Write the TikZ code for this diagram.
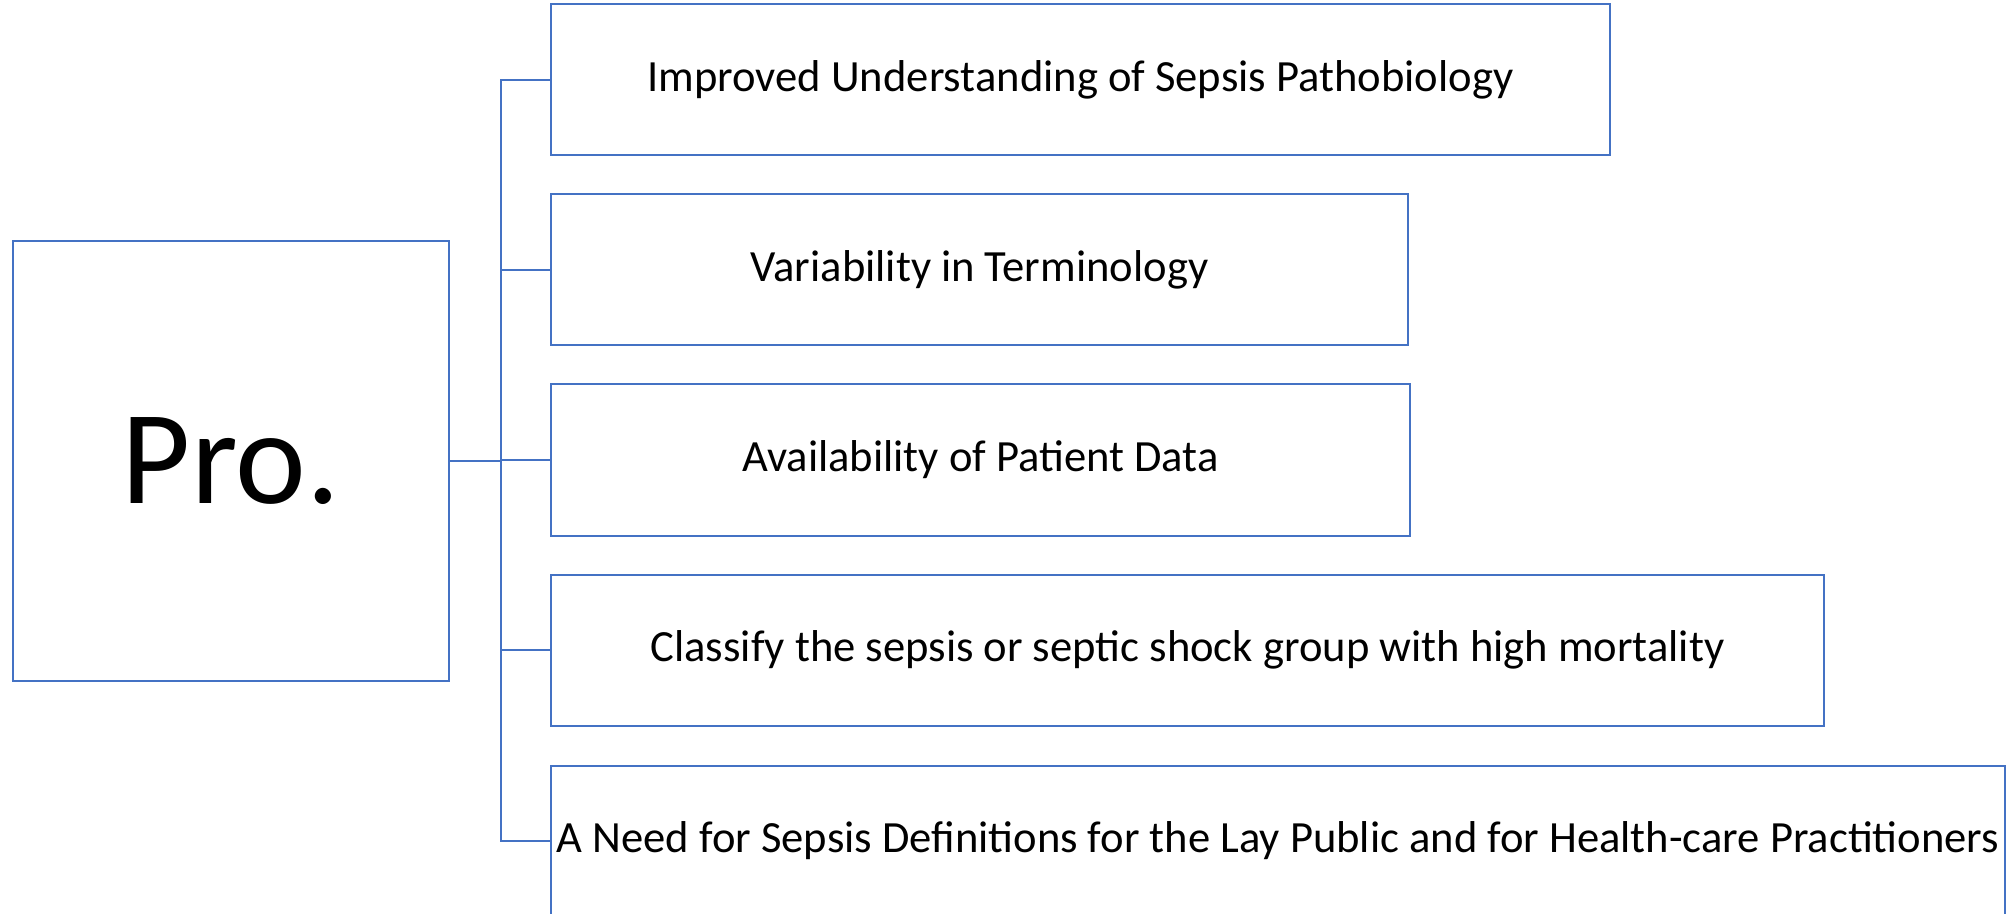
\documentclass[tikz,border=0pt]{standalone}
\usepackage{fontspec}
\setmainfont{Carlito}
\usepackage{tikz}

\definecolor{boxblue}{HTML}{4472C4}

\begin{document}
\begin{tikzpicture}
  [x=0.5pt,y=-0.5pt,
   every node/.style={draw=boxblue,line width=1pt,inner sep=0pt},
   item/.style={anchor=west,minimum height=75.5pt,font=\fontsize{22.3}{27}\selectfont},
   link/.style={draw=boxblue,line width=1pt}]
  \useasboundingbox (0,0) rectangle (2007,914);

  \node[minimum width=218pt,minimum height=220pt,font=\fontsize{67}{80}\selectfont] (pro) at (231,461) {Pro.};

  \node[item,minimum width=529.5pt] (c1) at (550,80)  {Improved Understanding of Sepsis Pathobiology};
  \node[item,minimum width=428.5pt] (c2) at (550,270) {Variability in Terminology};
  \node[item,minimum width=429.5pt] (c3) at (550,460) {Availability of Patient Data};
  \node[item,minimum width=636.5pt] (c4) at (550,650) {Classify the sepsis or septic shock group with high mortality};
  \node[item,minimum width=727pt]   (c5) at (550,841) {A Need for Sepsis Definitions for the Lay Public and for Health-care Practitioners};

  \foreach \to in {c1,c2,c3,c4,c5}
    \draw[link] (pro.east) -- ++(51,0) |- (\to.west);
\end{tikzpicture}
\end{document}
